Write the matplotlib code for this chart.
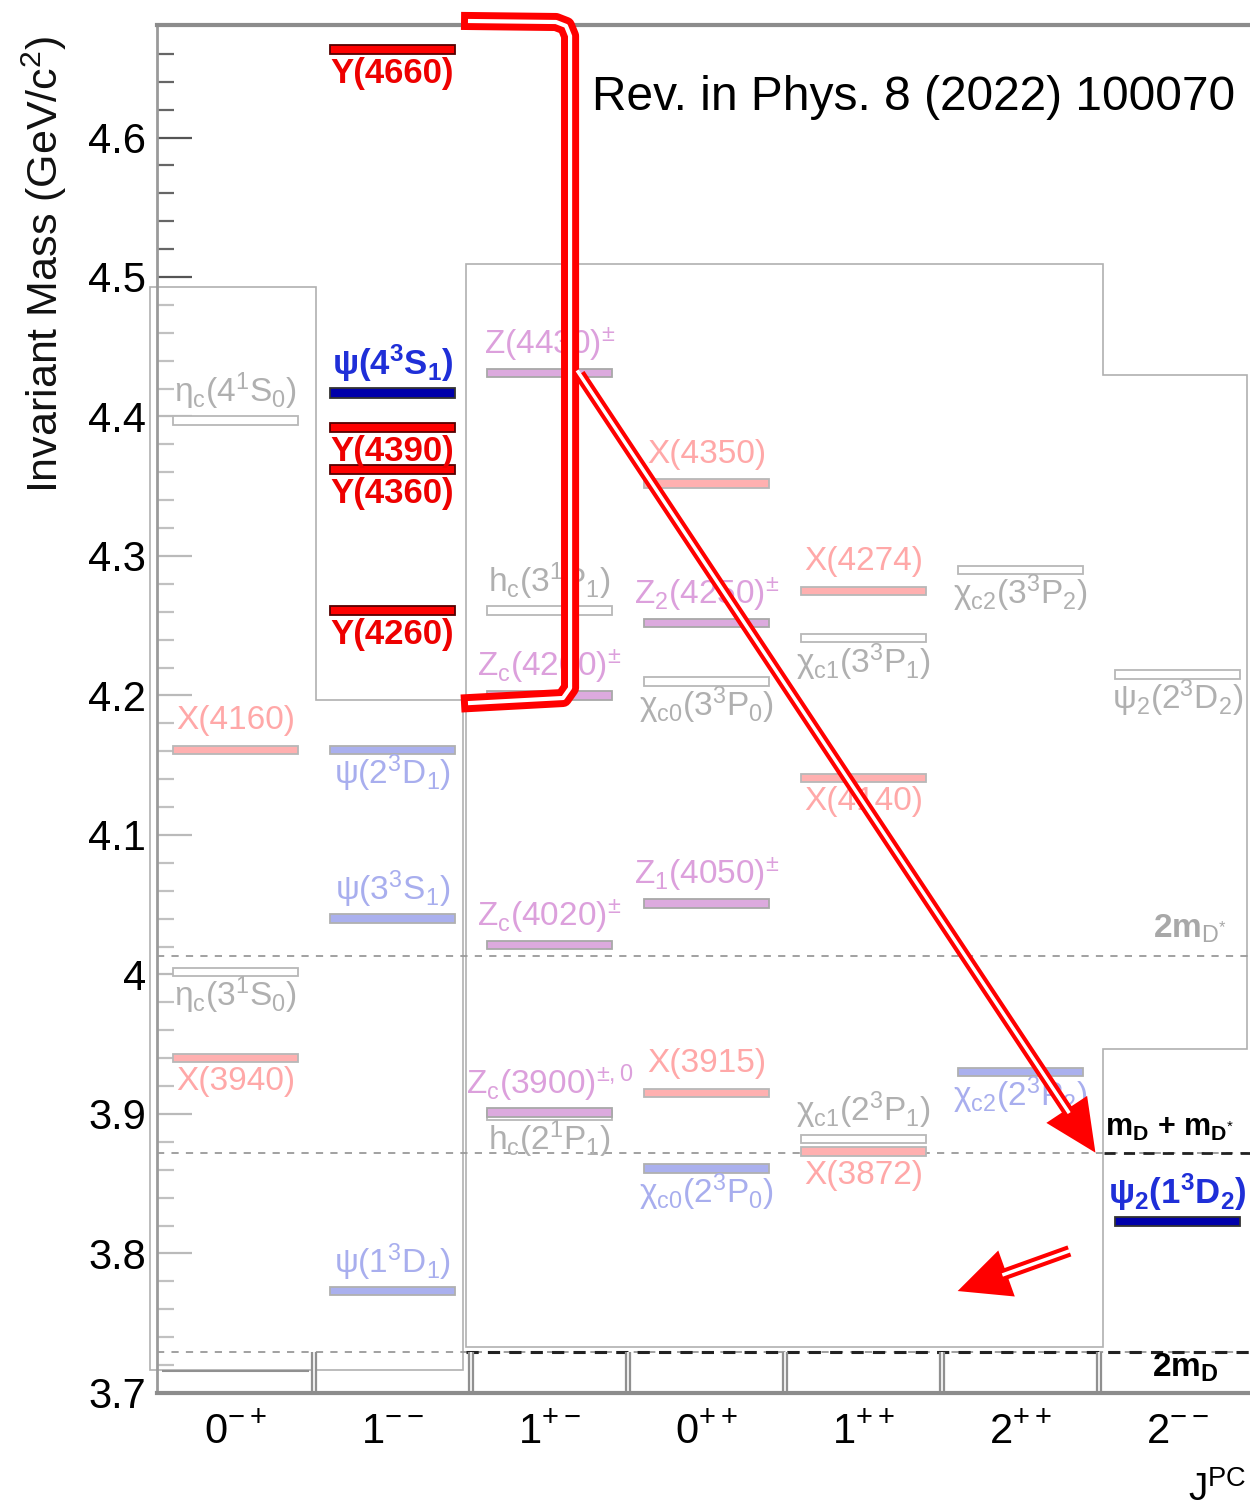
import matplotlib.pyplot as plt
from matplotlib.patches import Polygon, FancyArrowPatch

plt.rcParams['font.family'] = ['Liberation Sans', 'DejaVu Sans']
plt.rcParams['mathtext.fontset'] = 'custom'
plt.rcParams['mathtext.rm'] = 'Liberation Sans'
plt.rcParams['mathtext.it'] = 'Liberation Sans'
plt.rcParams['mathtext.bf'] = 'Liberation Sans:bold'

# ---- data ----
jpc_labels = ['0$^{-+}$', '1$^{--}$', '1$^{+-}$', '0$^{++}$', '1$^{++}$', '2$^{++}$', '2$^{--}$']
mass_ticks = [3.7, 3.8, 3.9, 4.0, 4.1, 4.2, 4.3, 4.4, 4.5, 4.6]
mass_tick_labels = ['3.7', '3.8', '3.9', '4', '4.1', '4.2', '4.3', '4.4', '4.5', '4.6']

state_names = [
    'η$_{c}$(4$^{1}$S$_{0}$)', 'X(4160)', 'η$_{c}$(3$^{1}$S$_{0}$)', 'X(3940)',
    'Y(4660)', r'ψ(4$^{\mathbf{3}}$S$_{\mathbf{1}}$)', 'Y(4390)', 'Y(4360)', 'Y(4260)',
    'ψ(2$^{3}$D$_{1}$)', 'ψ(3$^{3}$S$_{1}$)', 'ψ(1$^{3}$D$_{1}$)',
    'Z(4430)$^{±}$', 'h$_{c}$(3$^{1}$P$_{1}$)', 'Z$_{c}$(4200)$^{±}$', 'Z$_{c}$(4020)$^{±}$',
    'h$_{c}$(2$^{1}$P$_{1}$)', 'Z$_{c}$(3900)$^{±,0}$',
    'X(4350)', 'Z$_{2}$(4250)$^{±}$', 'χ$_{c0}$(3$^{3}$P$_{0}$)', 'Z$_{1}$(4050)$^{±}$',
    'X(3915)', 'χ$_{c0}$(2$^{3}$P$_{0}$)',
    'X(4274)', 'χ$_{c1}$(3$^{3}$P$_{1}$)', 'X(4140)', 'χ$_{c1}$(2$^{3}$P$_{1}$)', 'X(3872)',
    'χ$_{c2}$(3$^{3}$P$_{2}$)', 'χ$_{c2}$(2$^{3}$P$_{2}$)',
    'ψ$_{2}$(2$^{3}$D$_{2}$)', r'ψ$_{\mathbf{2}}$(1$^{\mathbf{3}}$D$_{\mathbf{2}}$)',
]
state_mass = [
    4.397, 4.161, 4.002, 3.940,
    4.663, 4.417, 4.392, 4.362, 4.261,
    4.161, 4.040, 3.773,
    4.431, 4.261, 4.200, 4.021,
    3.899, 3.901,
    4.352, 4.252, 4.210, 4.051,
    3.915, 3.861,
    4.275, 4.241, 4.141, 3.882, 3.873,
    4.290, 3.930,
    4.215, 3.823,
]
state_jpc = [
    0, 0, 0, 0,
    1, 1, 1, 1, 1,
    1, 1, 1,
    2, 2, 2, 2,
    2, 2,
    3, 3, 3, 3,
    3, 3,
    4, 4, 4, 4, 4,
    5, 5,
    6, 6,
]
state_kind = [
    'pred', 'X', 'pred', 'X',
    'Y', 'new', 'Y', 'Y', 'Y',
    'seen', 'seen', 'seen',
    'Z', 'pred', 'Z', 'Z',
    'pred', 'Z',
    'X', 'Z', 'pred', 'Z',
    'X', 'seen',
    'X', 'pred', 'X', 'pred', 'X',
    'pred', 'seen',
    'pred', 'new',
]

thresh_mass = [3.7297, 3.8718, 4.0135]

# ---- layout (label above = 1, below = -1) ----
label_side = [
    1, 1, -1, -1,
    -1, 1, -1, -1, -1,
    -1, 1, 1,
    1, 1, 1, 1,
    -1, 1,
    1, 1, -1, 1,
    1, -1,
    1, -1, -1, 1, -1,
    -1, -1,
    -1, 1,
]

bar_face = {'Y': '#ff0000', 'X': '#ffb0b0', 'Z': '#dcaade', 'new': '#0000aa',
            'seen': '#aab0ee', 'pred': 'white'}
bar_edge = {'Y': '#550000', 'X': '#b8b8b8', 'Z': '#a8a8a8', 'new': '#333333',
            'seen': '#b0b0b0', 'pred': '#b8b8b8'}
text_col = {'Y': '#ee0000', 'X': '#ffa8a8', 'Z': '#dca0dc', 'new': '#1f2fd8',
            'seen': '#a8aeee', 'pred': '#b0b0b0'}

fig = plt.figure(figsize=(12.5, 15.1), dpi=100)
ax = fig.add_axes([0.1256, 0.0775, 0.8792, 0.9059])
ax.set_xlim(0, 7)
ax.set_ylim(3.7, 4.6806)

# pasted-panel boxes
boxA = Polygon([(-0.0446, 4.4928), (1.0127, 4.4928), (1.0127, 4.1968), (1.949, 4.1968),
                (1.949, 3.7165), (-0.0446, 3.7165)], closed=True,
               facecolor=(1, 1, 1, 0.6), edgecolor='#b0b0b0', lw=1.2, zorder=1.6, clip_on=False)
boxC = Polygon([(1.968, 4.5093), (6.025, 4.5093), (6.025, 4.4297), (6.943, 4.4297),
                (6.943, 3.9466), (6.025, 3.9466), (6.025, 3.733), (1.968, 3.733)], closed=True,
               facecolor='none', edgecolor='#b0b0b0', lw=1.2, zorder=1.6, clip_on=False)
ax.add_patch(boxA)
ax.add_patch(boxC)

# thresholds
for m in thresh_mass:
    ax.axhline(m, color='#9a9a9a', lw=1.3, ls=(0, (4, 4)), zorder=1.7)
ax.hlines(thresh_mass[0], 1.97, 7, color='#222222', lw=2.2, ls=(0, (4, 3)), zorder=1.8)
ax.hlines(thresh_mass[1], 6.03, 7, color='#222222', lw=2.0, ls=(0, (4, 3)), zorder=1.8)

# column separators at the bottom
for c in range(1, 7):
    ax.plot([c, c], [3.7, 3.7297], color='#909090', lw=4.5, zorder=1.8, solid_capstyle='butt')
    ax.plot([c, c], [3.7, 3.7297], color='white', lw=1.2, zorder=1.9, solid_capstyle='butt')
ax.hlines(3.7155, 0.03, 0.97, color='#909090', lw=1.5, zorder=1.8)

# levels
for name, m, col, kind, side in zip(state_names, state_mass, state_jpc, state_kind, label_side):
    h = 0.0068 if kind in ('Y', 'new') else 0.006
    ax.barh(m, 0.8, left=col + 0.1, height=h, color=bar_face[kind],
            edgecolor=bar_edge[kind], linewidth=1.3, zorder=3)
    bold = kind in ('Y', 'new')
    off = 21 if side > 0 else -17
    ax.annotate(name, (col + 0.5, m), xytext=(0, off), textcoords='offset points',
                ha='center', va='center', fontsize=25 if bold else 24,
                fontweight='bold' if bold else 'normal', color=text_col[kind], zorder=4)

# threshold labels
ax.text(6.58, 4.033, r'2m$_{\mathrm{D}^{*}}$', fontsize=24, color='#a8a8a8',
        fontweight='bold', ha='center', va='center')
ax.text(6.04, 3.890, r'm$_{\mathbf{D}}$ + m$_{\mathbf{D}^{*}}$', fontsize=22, color='black',
        fontweight='bold', ha='left', va='center')
ax.text(6.55, 3.718, r'2m$_{\mathbf{D}}$', fontsize=24, color='black',
        fontweight='bold', ha='center', va='center', zorder=4)

# axes styling
ax.set_yticks(mass_ticks)
ax.set_yticklabels(mass_tick_labels, fontsize=30)
ax.set_yticks([3.7 + 0.02 * i for i in range(50) if i % 5 and 3.7 + 0.02 * i < 4.68], minor=True)
ax.tick_params(axis='y', which='major', direction='in', length=25, width=1.6,
               color='#555555', pad=8)
ax.tick_params(axis='y', which='minor', direction='in', length=12, width=1.6, color='#666666')
ax.set_xticks([c + 0.5 for c in range(7)])
ax.set_xticklabels(jpc_labels, fontsize=30)
ax.tick_params(axis='x', length=0, pad=14)
ax.set_ylabel('Invariant Mass (GeV/c$^{2}$)', fontsize=31, color='#111111')
ax.yaxis.set_label_coords(-0.08, 0.825)
ax.spines['right'].set_visible(False)
ax.spines['top'].set_color('#8c8c8c')
ax.spines['top'].set_linewidth(3)
ax.spines['left'].set_color('#9a9a9a')
ax.spines['left'].set_linewidth(2)
ax.spines['bottom'].set_color('#8c8c8c')
ax.spines['bottom'].set_linewidth(3)

fig.text(1188 / 1250, 0.0132, 'J$^{PC}$', fontsize=28, va='center', ha='left')
fig.text(592 / 1250, 1 - 98 / 1510, 'Rev. in Phys. 8 (2022) 100070', fontsize=34.5,
         ha='left', va='center')

# red annotations: bracket and arrows (double-line shafts)
bx = [1.994, 2.541, 2.605, 2.631, 2.631, 2.586, 1.994]
by = [4.6835, 4.6828, 4.680, 4.6728, 4.2054, 4.1982, 4.1946]
ax.plot(bx, by, color='red', lw=13, clip_on=False, zorder=6, solid_joinstyle='round')
ax.plot(bx, by, color='white', lw=3, clip_on=False, zorder=7, solid_joinstyle='round')

arrows = [((2.682, 4.432), (5.987, 3.8706)), ((5.828, 3.8025), (5.083, 3.7724))]
for tail, tip in arrows:
    arr = FancyArrowPatch(tail, tip, arrowstyle='simple,head_length=1.7,head_width=1.6,tail_width=0.38',
                          mutation_scale=22, color='red', lw=0, zorder=6)
    ax.add_patch(arr)
    # white gap along shaft, stopping before head
    p0 = ax.transData.transform(tail)
    p1 = ax.transData.transform(tip)
    d = ((p1[0] - p0[0]) ** 2 + (p1[1] - p0[1]) ** 2) ** 0.5
    f = 1 - 52 / d
    ex = tail[0] + f * (tip[0] - tail[0])
    ey = tail[1] + f * (tip[1] - tail[1])
    ax.plot([tail[0], ex], [tail[1], ey], color='white', lw=2.5, zorder=7)

fig.savefig('out.png', dpi=100)
